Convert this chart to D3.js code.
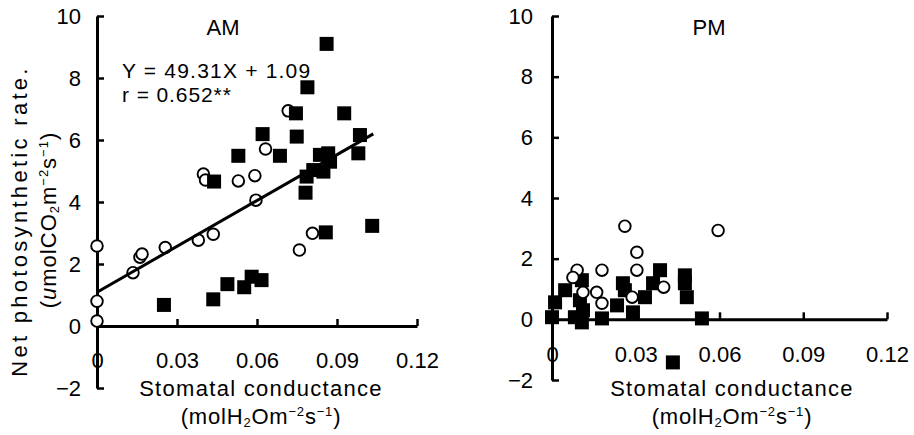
<!DOCTYPE html>
<html>
<head>
<meta charset="utf-8">
<script src="https://cdn.jsdelivr.net/npm/d3@7"></script>
<style>
  html, body { margin: 0; padding: 0; background: #fff; }
  svg { display: block; font-family: "Liberation Sans", Arial, Helvetica, sans-serif; }
</style>
</head>
<body>
<svg id="chart" width="914" height="435"></svg>
<script>
// Tick values shared by both panels
const xTicks = [0, 0.03, 0.06, 0.09, 0.12];
const yTicks = [-2, 0, 2, 4, 6, 8, 10];

// AM: open circles [conductance, photosynthesis]
const amOpen = [
  [0, 2.58], [0, 0.80], [0, 0.16], [0.0135, 1.72], [0.0161, 2.22], [0.0169, 2.32],
  [0.0256, 2.53], [0.0380, 2.77], [0.0436, 2.96], [0.0596, 4.06], [0.0399, 4.90],
  [0.0407, 4.71], [0.0530, 4.68], [0.0592, 4.85], [0.0632, 5.71], [0.0717, 6.94],
  [0.0759, 2.45], [0.0808, 2.99]
];
// AM: filled squares
const amFilled = [
  [0.0251, 0.68], [0.0436, 0.86], [0.0489, 1.35], [0.0552, 1.25], [0.0580, 1.59],
  [0.0617, 1.48], [0.0858, 3.02], [0.1032, 3.23], [0.0439, 4.66], [0.0530, 5.49],
  [0.0621, 6.19], [0.0686, 5.49], [0.0746, 6.86], [0.0749, 6.11], [0.0789, 7.70],
  [0.0861, 9.10], [0.0927, 6.86], [0.0986, 6.16], [0.0980, 5.57], [0.0786, 4.82],
  [0.0782, 4.30], [0.0836, 5.52], [0.0867, 5.57], [0.0849, 4.98], [0.0874, 5.30],
  [0.0811, 5.03]
];
// AM regression: Y = 49.31X + 1.09
const amFit = { slope: 49.31, intercept: 1.09, xMax: 0.1036 };
const amEquation = "Y = 49.31X + 1.09";
const amR = "r = 0.652**";

// PM: open circles
const pmOpen = [
  [0.0261, 3.07], [0.0595, 2.93], [0.0304, 2.21], [0.0304, 1.62], [0.0179, 1.62],
  [0.0090, 1.62], [0.0075, 1.38], [0.0400, 1.06], [0.0160, 0.89], [0.0179, 0.53],
  [0.0111, 0.89], [0.0287, 0.73]
];
// PM: filled squares
const pmFilled = [
  [0, 0.07], [0.0011, 0.56], [0.0047, 0.96], [0.0107, 1.29], [0.0100, 0.63],
  [0.0082, 0.07], [0.0107, -0.10], [0.0111, 0.30], [0.0179, 0.03], [0.0233, 0.46],
  [0.0261, 0.96], [0.0254, 1.19], [0.0290, 0.23], [0.0333, 0.73], [0.0362, 1.19],
  [0.0387, 1.62], [0.0476, 1.45], [0.0476, 1.19], [0.0483, 0.73], [0.0537, 0.03],
  [0.0433, -1.42]
];

const svg = d3.select("#chart");
const FONT = 22;

function drawPanel(opt) {
  const x = d3.scaleLinear().domain([0, 0.12]).range(opt.xRange);
  const y = d3.scaleLinear().domain([-2, 10]).range(opt.yRange);
  const g = svg.append("g");

  // y axis: ticks point inward, labels on the left
  const yAxis = g.append("g")
    .attr("transform", `translate(${x(0)},0)`)
    .call(d3.axisLeft(y).tickValues(yTicks).tickSizeInner(-7).tickSizeOuter(0)
      .tickPadding(opt.yPad));
  // x axis drawn along y = 0, ticks pointing up
  const xAxis = g.append("g")
    .attr("transform", `translate(0,${y(0)})`)
    .call(d3.axisBottom(x).tickValues(xTicks).tickSizeInner(-7).tickSizeOuter(0)
      .tickPadding(opt.xPad)
      .tickFormat(d => d === 0 ? "0" : d.toFixed(2)));

  [xAxis, yAxis].forEach(a => {
    a.select(".domain").attr("stroke", "#000").attr("stroke-width", 3);
    a.selectAll(".tick line").attr("stroke", "#000").attr("stroke-width", 2.5);
    a.selectAll(".tick text").attr("fill", "#000")
      .style("font-size", FONT + "px")
      .style("font-family", '"Liberation Sans", Arial, sans-serif');
  });

  const drawCircles = () => g.append("g").selectAll("circle")
    .data(opt.open).join("circle")
    .attr("cx", d => x(d[0])).attr("cy", d => y(d[1])).attr("r", 5.8)
    .attr("fill", "#fff").attr("stroke", "#000").attr("stroke-width", 1.9);
  const S = 14;
  const drawSquares = () => g.append("g").selectAll("rect")
    .data(opt.filled).join("rect")
    .attr("x", d => x(d[0]) - S / 2).attr("y", d => y(d[1]) - S / 2)
    .attr("width", S).attr("height", S).attr("fill", "#000");

  if (opt.squaresOnTop) { drawCircles(); drawSquares(); }
  else { drawSquares(); drawCircles(); }

  if (opt.fit) {
    const f = opt.fit;
    g.append("line")
      .attr("x1", x(0)).attr("y1", y(f.intercept))
      .attr("x2", x(f.xMax)).attr("y2", y(f.intercept + f.slope * f.xMax))
      .attr("stroke", "#000").attr("stroke-width", 3);
  }

  // panel title
  g.append("text").attr("x", opt.titleX).attr("y", 35)
    .attr("text-anchor", "middle").style("font-size", FONT + "px").text(opt.title);

  // x axis title, two lines
  const cx = opt.xTitleX;
  g.append("text").attr("x", cx).attr("y", 396).attr("text-anchor", "middle")
    .style("font-size", FONT + "px").style("letter-spacing", "1.3px")
    .text("Stomatal conductance");
  const u = g.append("text").attr("x", cx).attr("y", 424).attr("text-anchor", "middle")
    .style("font-size", FONT + "px").style("letter-spacing", "0.8px");
  u.append("tspan").text("(molH");
  u.append("tspan").attr("font-size", 13).attr("dy", 3).text("2");
  u.append("tspan").attr("dy", -3).text("Om");
  u.append("tspan").attr("font-size", 13).attr("dy", -8).text("\u22122");
  u.append("tspan").attr("dy", 8).text("s");
  u.append("tspan").attr("font-size", 13).attr("dy", -8).text("\u22121");
  u.append("tspan").attr("dy", 8).text(")");

  return { x, y, g };
}

const am = drawPanel({
  xRange: [97, 417], yRange: [388, 16], yPad: 16, xPad: 26,
  open: amOpen, filled: amFilled, squaresOnTop: true, fit: amFit,
  title: "AM", titleX: 223, xTitleX: 261
});
const pm = drawPanel({
  xRange: [552, 887], yRange: [380, 16], yPad: 19, xPad: 27,
  open: pmOpen, filled: pmFilled, squaresOnTop: false, fit: null,
  title: "PM", titleX: 709, xTitleX: 732
});

// regression equation and correlation on the AM panel
am.g.append("text").attr("x", 122).attr("y", 78)
  .style("font-size", "21px").style("letter-spacing", "1.2px").text(amEquation);
am.g.append("text").attr("x", 122).attr("y", 102)
  .style("font-size", "21px").style("letter-spacing", "0.9px").text(amR);

// shared y axis title, two rotated lines
svg.append("text")
  .attr("transform", "translate(27,221) rotate(-90)")
  .attr("text-anchor", "middle")
  .style("font-size", FONT + "px").style("letter-spacing", "3.3px")
  .text("Net photosynthetic rate.");
const yl = svg.append("text")
  .attr("transform", "translate(56,220) rotate(-90)")
  .attr("text-anchor", "middle")
  .style("font-size", FONT + "px").style("letter-spacing", "1px");
yl.append("tspan").text("(");
yl.append("tspan").attr("font-style", "italic").text("u");
yl.append("tspan").text("molCO");
yl.append("tspan").attr("font-size", 13).attr("dy", 3).text("2");
yl.append("tspan").attr("dy", -3).text("m");
yl.append("tspan").attr("font-size", 13).attr("dy", -8).text("\u22122");
yl.append("tspan").attr("dy", 8).text("s");
yl.append("tspan").attr("font-size", 13).attr("dy", -8).text("\u22121");
yl.append("tspan").attr("dy", 8).text(")");
</script>
</body>
</html>
